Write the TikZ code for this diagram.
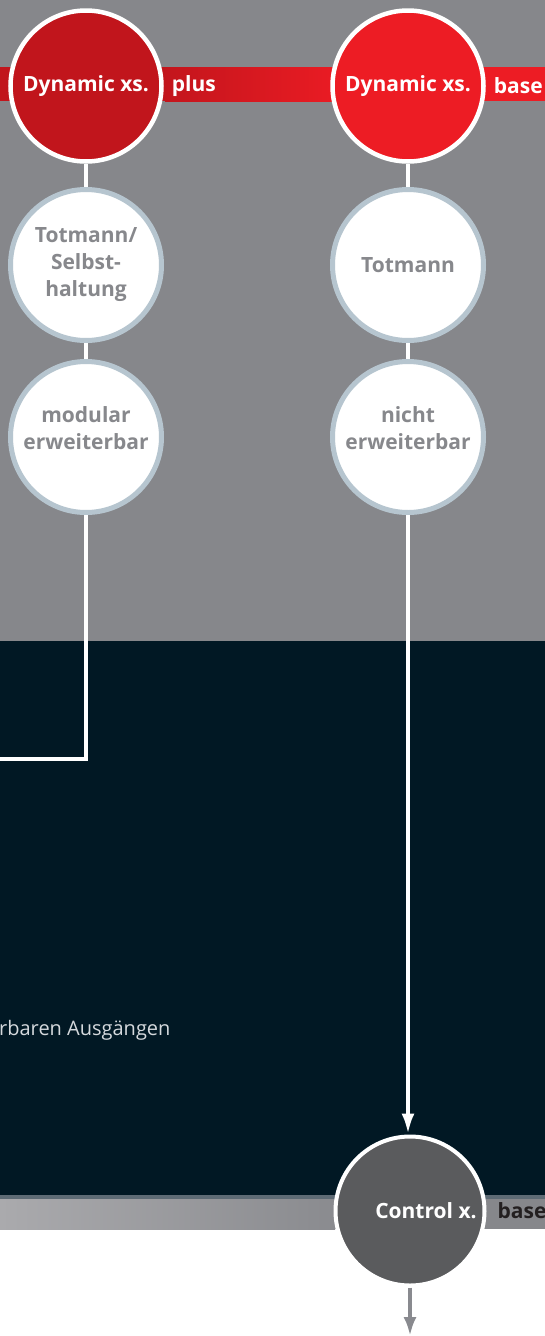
\documentclass[tikz,border=0pt]{standalone}
\usepackage{fontspec}
\setmainfont{Open Sans}
\usetikzlibrary{positioning,arrows.meta}
\definecolor{bggray}{HTML}{86878B}
\definecolor{navy}{HTML}{011824}
\definecolor{redd}{HTML}{C1151C}
\definecolor{redl}{HTML}{ED1C24}
\definecolor{ring}{HTML}{B6C5CF}
\definecolor{ctrlgray}{HTML}{5A5B5D}
\definecolor{edgeline}{HTML}{5E6B75}
\definecolor{bandl}{HTML}{AAAAAD}
\definecolor{bandr}{HTML}{8A8B8F}
\definecolor{txtgray}{HTML}{87888C}
\definecolor{darktxt}{HTML}{231F20}
\definecolor{lighttxt}{HTML}{D5D9DD}
\definecolor{outgray}{HTML}{898A8F}
\tikzset{
  bubble/.style={circle,minimum size=151pt,inner sep=0pt,line width=4.5pt,draw=white,
    font=\fontsize{21}{27}\selectfont\bfseries,align=center},
  head/.style={bubble,text=white},
  feature/.style={bubble,draw=ring,line width=5pt,fill=white,text=txtgray},
  tag/.style={inner sep=0pt,font=\fontsize{21}{27}\selectfont\bfseries},
  wire/.style={draw=white,line width=4.5pt}
}
\begin{document}
\begin{tikzpicture}[x=1pt,y=-1pt]
\useasboundingbox (0,0) rectangle (545,1336);
%\draw[help lines] (0,0) grid[step=50] (545,1336);
\fill[bggray] (0,0) rectangle (545,641);
\fill[navy] (0,641) rectangle (545,1195);
\fill[edgeline] (0,1195) rectangle (545,1199);
\shade[left color=bandl,right color=bandr] (0,1199) rectangle (335,1229);
\fill[bggray] (335,1199) rectangle (545,1229);
\fill[redd] (0,67) rectangle (165,101);
\shade[left color=redd!95!redl,right color=redl!92!redd] (165,67) rectangle (335,101);
\fill[redl] (335,67) rectangle (545,101);

\node[head,fill=redd] (dxp) at (86,86) {Dynamic xs.};
\node[head,fill=redl] (dxb) at (408,86) {Dynamic xs.};
\node[tag,text=white,right=8pt of dxp] (plus) {plus};
\node[tag,text=white,right=8pt of dxb] (basetop) {base};
\node[feature] (tl) at (86,265) {Totmann/\\Selbst-\\haltung};
\node[feature] (tr) at (408,265) {Totmann};
\node[feature] (ml) at (86,437) {};
\node[feature] (mr) at (408,437) {};
\node[tag,text=txtgray,align=center] (mlt) at (86,428) {modular\\erweiterbar};
\node[tag,text=txtgray,align=center] (mrt) at (408,428) {nicht\\erweiterbar};
\node[bubble,fill=ctrlgray,minimum size=149pt,line width=4pt] (ctrl) at (410,1211) {};
\node[tag,text=white] (ctrlt) at (426,1211) {Control x.};
\node[tag,text=darktxt,right=11pt of ctrl] (basebot) {base};
\node[anchor=base west,inner sep=0pt,text=lighttxt,font=\fontsize{20}{24}\selectfont] (outs) at (-1,1035) {rbaren Ausgängen};

\draw[wire] (dxp) -- (tl);
\draw[wire] (tl) -- (ml);
\draw[wire] (dxb) -- (tr);
\draw[wire] (tr) -- (mr);
\coordinate (exitl) at (0,759);
\draw[wire] (ml.south) |- (exitl);
\draw[wire,-{Latex[length=21pt,width=13pt]}] (mr.south) -- (mr.south |- ctrl.north);
\coordinate (out) at (410,1336);
\draw[draw=outgray,line width=4pt,-{Latex[length=19pt,width=13pt]}] (ctrl) -- (out);
\end{tikzpicture}
\end{document}
